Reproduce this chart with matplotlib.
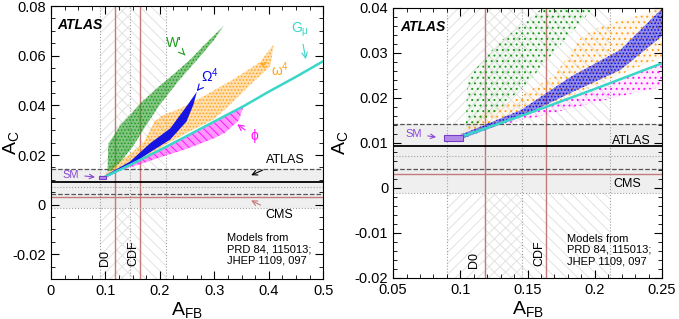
import matplotlib.pyplot as plt
from matplotlib.patches import Polygon, Rectangle
from matplotlib.ticker import MultipleLocator

plt.rcParams['font.family'] = ['Liberation Sans', 'DejaVu Sans']
plt.rcParams['mathtext.fontset'] = 'custom'
plt.rcParams['mathtext.rm'] = 'Liberation Sans'
plt.rcParams['mathtext.it'] = 'Liberation Sans:italic'
plt.rcParams['hatch.linewidth'] = 0.7

# Tevatron A_FB measurements
d0_afb, d0_err = 0.118, 0.028
cdf_afb, cdf_err = 0.164, 0.047
# LHC A_C measurements (central, low, high)
atlas_ac = [0.0093, 0.0042, 0.0143]
cms_ac = [0.0030, -0.0012, 0.0072]
# SM prediction box
sm_afb = [0.088, 0.102]
sm_ac = [0.0105, 0.0117]

# model regions (outlines)
w_afb = [0.104, 0.105, 0.106, 0.113, 0.128, 0.145, 0.165, 0.195, 0.225, 0.256, 0.280, 0.317,
         0.300, 0.275, 0.235, 0.199, 0.169, 0.150, 0.128, 0.110]
w_ac = [0.0135, 0.0220, 0.0247, 0.0270, 0.0322, 0.0360, 0.0410, 0.0470, 0.0525, 0.0585, 0.0640, 0.0720,
        0.0665, 0.0600, 0.0500, 0.0400, 0.0300, 0.0233, 0.0173, 0.0136]

om4_afb = [0.100, 0.145, 0.182, 0.219, 0.249, 0.268, 0.262, 0.249, 0.219, 0.182, 0.145, 0.100]
om4_ac = [0.0118, 0.0173, 0.0247, 0.0307, 0.0396, 0.0455, 0.0405, 0.0335, 0.0262, 0.0211, 0.0158, 0.0108]

w4_afb = [0.100, 0.115, 0.140, 0.170, 0.190, 0.205, 0.235, 0.275, 0.335, 0.384, 0.409,
          0.403, 0.360, 0.330, 0.300, 0.250, 0.213, 0.160, 0.120]
w4_ac = [0.0120, 0.0165, 0.0195, 0.0250, 0.0335, 0.0360, 0.0385, 0.0430, 0.0505, 0.0574, 0.0647,
         0.0558, 0.0470, 0.0405, 0.0345, 0.0290, 0.0245, 0.0175, 0.0135]

phi_afb = [0.105, 0.150, 0.200, 0.250, 0.300, 0.354, 0.345, 0.320, 0.300, 0.250, 0.200, 0.160, 0.130, 0.110]
phi_ac = [0.0118, 0.0165, 0.0220, 0.0277, 0.0335, 0.0397, 0.0340, 0.0290, 0.0268, 0.0225, 0.0190, 0.0160, 0.0140, 0.0122]

gmu_afb = [0.100, 0.150, 0.200, 0.250, 0.300, 0.354, 0.400, 0.450, 0.500]
gmu_ac = [0.0113, 0.0165, 0.0220, 0.0277, 0.0335, 0.0397, 0.0455, 0.0515, 0.0578]

GREEN = '#1f9a1f'
BLUE = '#0a0ae6'
ORANGE = '#ffa31a'
MAGENTA = '#ff14ff'
CYAN = '#3ad6c8'
RED = '#c47a7a'
HATCH = '#e2e2e2'


def draw_panel(ax, dense):
    # Tevatron vertical bands
    ax.axvspan(d0_afb - d0_err, d0_afb + d0_err, facecolor='none', edgecolor=HATCH,
               hatch='///', lw=0, zorder=0)
    ax.axvspan(cdf_afb - cdf_err, cdf_afb + cdf_err, facecolor='none', edgecolor=HATCH,
               hatch='\\\\\\', lw=0, zorder=0)
    for x in [d0_afb - d0_err, d0_afb + d0_err, cdf_afb + cdf_err]:
        ax.axvline(x, color='#a0a0a0', ls=':', lw=0.8, zorder=1)
    ax.axvline(d0_afb, color=RED, lw=1.0, zorder=1)
    ax.axvline(cdf_afb, color=RED, lw=1.0, zorder=1)

    # LHC horizontal bands
    ax.axhspan(atlas_ac[1], atlas_ac[2], color='#efefef', lw=0, zorder=0)
    ax.axhspan(cms_ac[1], cms_ac[2], color='#efefef', lw=0, zorder=0)
    ax.axhline(atlas_ac[0], color='black', lw=1.3, zorder=2)
    ax.axhline(atlas_ac[1], color='#555555', ls='--', lw=0.9, zorder=2)
    ax.axhline(atlas_ac[2], color='#555555', ls='--', lw=0.9, zorder=2)
    ax.axhline(cms_ac[0], color=RED, lw=1.0, zorder=2)
    ax.axhline(cms_ac[1], color='#a0a0a0', ls=':', lw=0.8, zorder=2)
    ax.axhline(cms_ac[2], color='#a0a0a0', ls=':', lw=0.8, zorder=2)

    # model regions
    if dense:
        styles = [(w4_afb, w4_ac, ORANGE, 0.35, '.....', 3),
                  (phi_afb, phi_ac, MAGENTA, 0.45, '\\\\\\\\', 3),
                  (om4_afb, om4_ac, BLUE, 0.95, None, 4),
                  (w_afb, w_ac, GREEN, 0.55, '.....', 5)]
    else:
        styles = [(w4_afb, w4_ac, ORANGE, 0.08, '...', 3),
                  (phi_afb, phi_ac, MAGENTA, 0.08, '...', 3),
                  (om4_afb, om4_ac, BLUE, 0.45, '.....', 4),
                  (w_afb, w_ac, GREEN, 0.06, '...', 5)]
    for xs, ys, col, alpha, hatch, z in styles:
        ax.add_patch(Polygon(list(zip(xs, ys)), closed=True, facecolor=col, alpha=alpha,
                             lw=0, zorder=z))
        if hatch:
            ax.add_patch(Polygon(list(zip(xs, ys)), closed=True, facecolor='none',
                                 edgecolor=col, hatch=hatch, lw=0, zorder=z))
    ax.plot(gmu_afb, gmu_ac, color=CYAN, lw=1.8, zorder=6)

    # SM box
    ax.add_patch(Rectangle((sm_afb[0], sm_ac[0]), sm_afb[1] - sm_afb[0], sm_ac[1] - sm_ac[0],
                           facecolor='#b48ce6', edgecolor='#7a3cc8', lw=0.8, zorder=7))

    ax.text(0.025, 0.93, 'ATLAS', transform=ax.transAxes, fontsize=10, fontweight='bold',
            style='italic', va='center', ha='left', zorder=8)
    ax.set_xlabel('A$_{\\rm FB}$', fontsize=14)
    ax.set_ylabel('A$_{\\rm C}$', fontsize=14)
    ax.tick_params(which='both', direction='in', top=True, right=True, labelsize=10.5)
    ax.tick_params(which='major', length=6)
    ax.tick_params(which='minor', length=3)


fig = plt.figure(figsize=(6.79, 3.19), dpi=100)
ax1 = fig.add_axes([0.075, 0.125, 0.401, 0.856])
ax2 = fig.add_axes([0.579, 0.129, 0.396, 0.846])

# left panel
draw_panel(ax1, True)
ax1.set_xlim(0, 0.5)
ax1.set_ylim(-0.03, 0.08)
ax1.set_xticks([0, 0.1, 0.2, 0.3, 0.4, 0.5])
ax1.set_xticklabels(['0', '0.1', '0.2', '0.3', '0.4', '0.5'])
ax1.xaxis.set_minor_locator(MultipleLocator(0.025))
ax1.set_yticks([-0.02, 0, 0.02, 0.04, 0.06, 0.08])
ax1.set_yticklabels(['-0.02', '0', '0.02', '0.04', '0.06', '0.08'])
ax1.yaxis.set_minor_locator(MultipleLocator(0.005))
ax1.yaxis.set_label_coords(-0.11, 0.5)
ax1.xaxis.set_label_coords(0.5, -0.075)

arrow = dict(arrowstyle='->', lw=0.8)
ax1.annotate("W'", xy=(0.25, 0.0594), xytext=(0.225, 0.065), color=GREEN, fontsize=10,
             ha='center', va='center', arrowprops=dict(arrow, color=GREEN))
ax1.annotate('Ω$^{4}$', xy=(0.268, 0.0458), xytext=(0.292, 0.052), color=BLUE, fontsize=10,
             ha='center', va='center', arrowprops=dict(arrow, color=BLUE))
ax1.annotate('ω$^{4}$', xy=(0.378, 0.0573), xytext=(0.42, 0.0545), color=ORANGE, fontsize=10,
             ha='center', va='center', arrowprops=dict(arrow, color=ORANGE))
ax1.annotate('G$_{\\rm μ}$', xy=(0.469, 0.0575), xytext=(0.458, 0.0705), color=CYAN, fontsize=10,
             ha='center', va='center', arrowprops=dict(arrow, color=CYAN))
ax1.annotate('ϕ', xy=(0.338, 0.033), xytext=(0.373, 0.0275), color=MAGENTA, fontsize=10,
             ha='center', va='center', arrowprops=dict(arrow, color=MAGENTA))
ax1.annotate('ATLAS', xy=(0.363, 0.0114), xytext=(0.43, 0.0179), color='black', fontsize=9,
             ha='center', va='center', arrowprops=dict(arrow, color='black'))
ax1.annotate('CMS', xy=(0.363, 0.0022), xytext=(0.42, -0.004), color='black', fontsize=9,
             ha='center', va='center', arrowprops=dict(arrow, color=RED))
ax1.annotate('SM', xy=(0.086, 0.011), xytext=(0.037, 0.0121), color='#8a4ad6', fontsize=8,
             ha='center', va='center', arrowprops=dict(arrow, color='#8a4ad6'))
ax1.text(0.1, -0.0248, 'D0', rotation=90, fontsize=9, ha='center', va='bottom')
ax1.text(0.152, -0.0248, 'CDF', rotation=90, fontsize=9, ha='center', va='bottom')
ax1.text(0.323, -0.0115, 'Models from\nPRD 84, 115013;\nJHEP 1109, 097', fontsize=8,
         ha='left', va='top', linespacing=1.15)

# right panel
draw_panel(ax2, False)
ax2.set_xlim(0.05, 0.25)
ax2.set_ylim(-0.02, 0.04)
ax2.set_xticks([0.05, 0.1, 0.15, 0.2, 0.25])
ax2.set_xticklabels(['0.05', '0.1', '0.15', '0.2', '0.25'])
ax2.xaxis.set_minor_locator(MultipleLocator(0.01))
ax2.set_yticks([-0.02, -0.01, 0, 0.01, 0.02, 0.03, 0.04])
ax2.set_yticklabels(['-0.02', '-0.01', '0', '0.01', '0.02', '0.03', '0.04'])
ax2.yaxis.set_minor_locator(MultipleLocator(0.002))
ax2.yaxis.set_label_coords(-0.16, 0.5)
ax2.xaxis.set_label_coords(0.5, -0.08)

ax2.annotate('SM', xy=(0.084, 0.0112), xytext=(0.0655, 0.012), color='#8a4ad6', fontsize=8,
             ha='center', va='center', arrowprops=dict(arrow, color='#8a4ad6'))
ax2.text(0.2275, 0.0105, 'ATLAS', fontsize=9, ha='center', va='center')
ax2.text(0.224, 0.0008, 'CMS', fontsize=9, ha='center', va='center')
ax2.text(0.11, -0.0177, 'D0', rotation=90, fontsize=9, ha='center', va='bottom')
ax2.text(0.159, -0.0173, 'CDF', rotation=90, fontsize=9, ha='center', va='bottom')
ax2.text(0.179, -0.0102, 'Models from\nPRD 84, 115013;\nJHEP 1109, 097', fontsize=8,
         ha='left', va='top', linespacing=1.15)

fig.savefig('out.png', dpi=100)
